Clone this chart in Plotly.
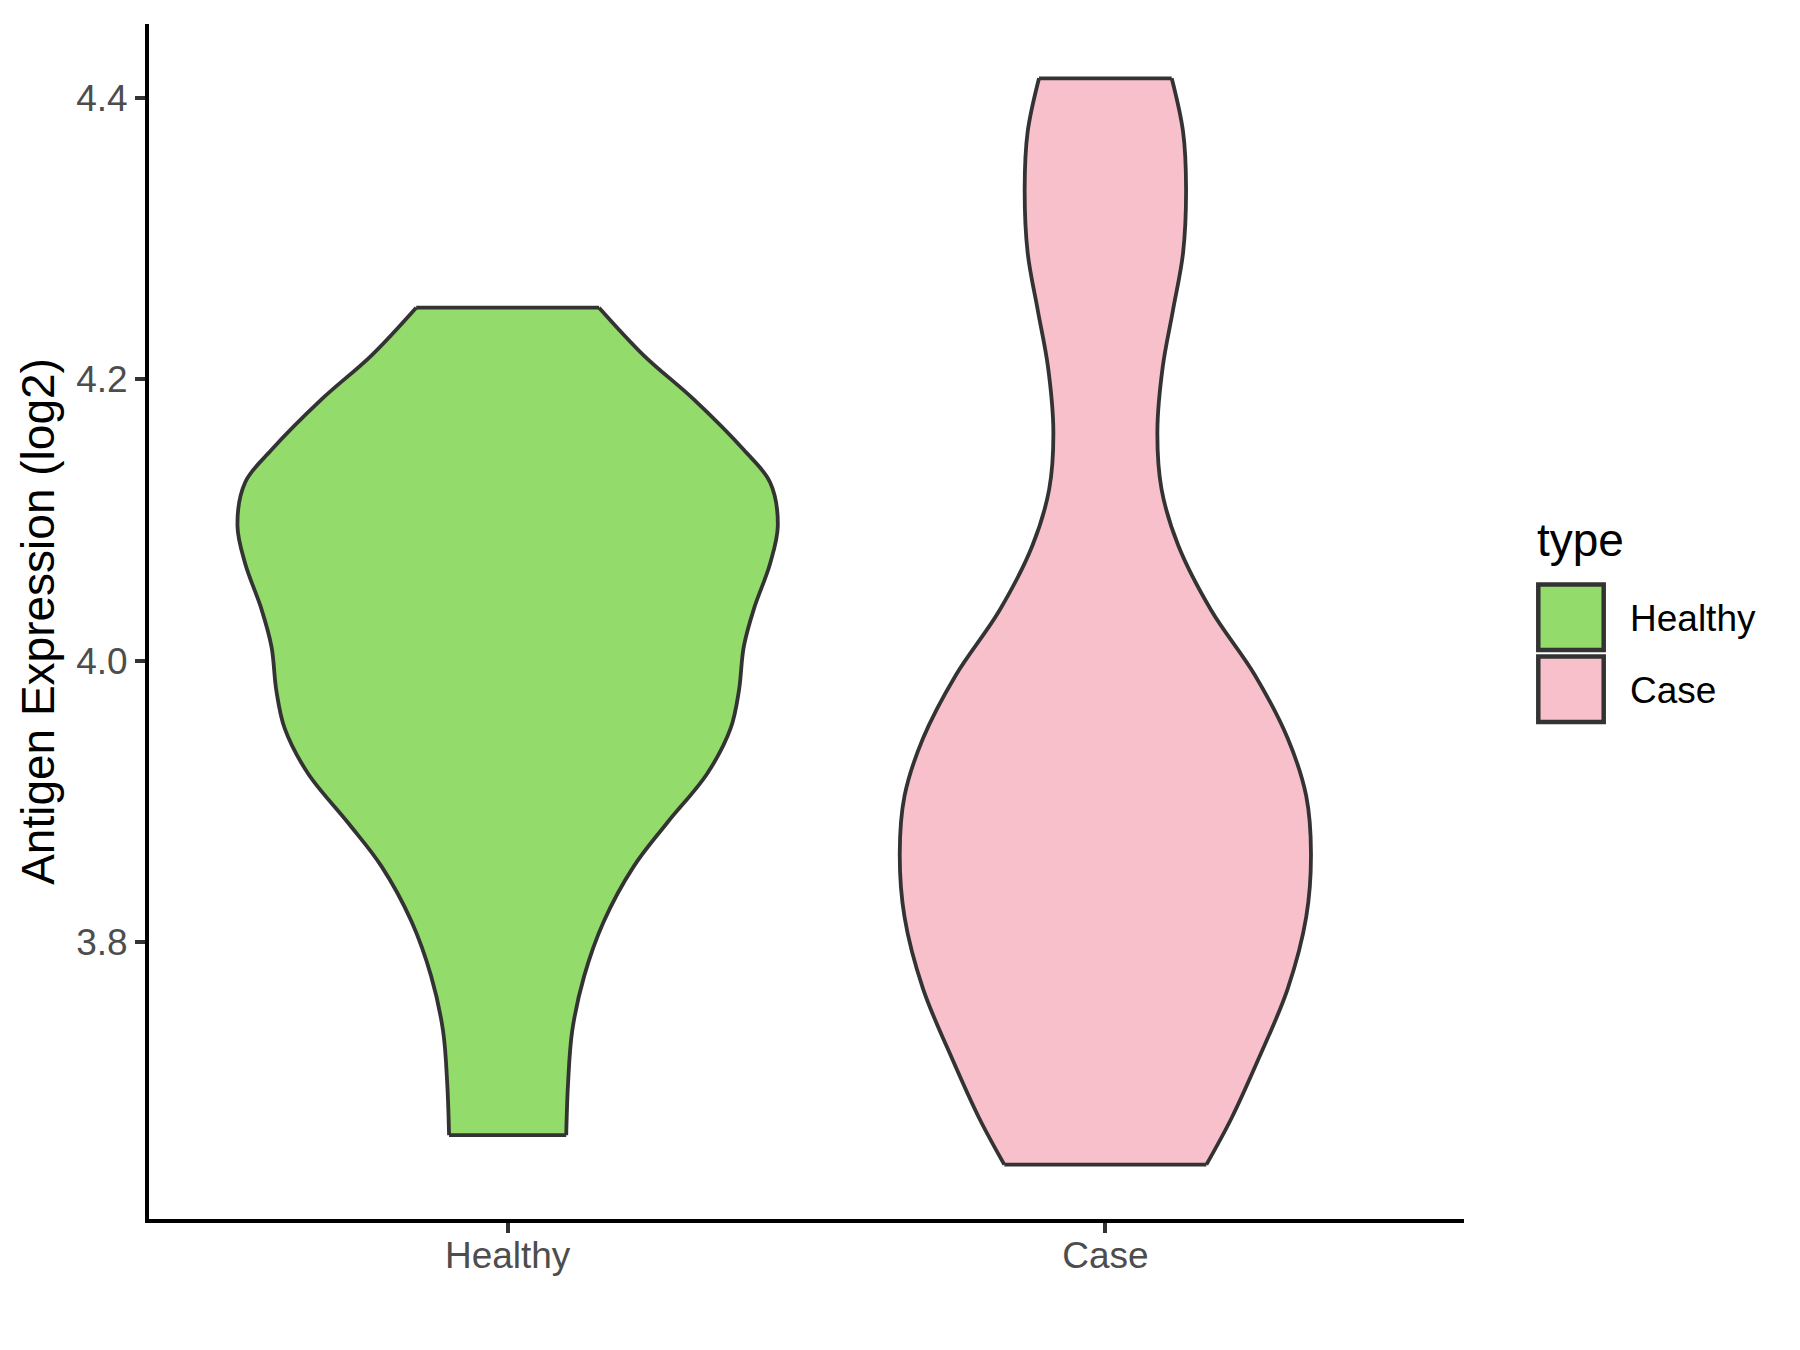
import plotly.graph_objects as go

# ---------------- data ----------------
categories = ["Healthy", "Case"]
fill_colors = ["#93DB6A", "#F8C0CB"]

# violin outline: y levels (log2 expression) and half-widths (in category-axis units)
healthy_y = [3.663, 3.699, 3.737, 3.776, 3.815, 3.854, 3.885, 3.920, 3.952, 3.979,
             4.010, 4.037, 4.069, 4.096, 4.127, 4.150, 4.186, 4.217, 4.251]
healthy_hw = [0.098, 0.101, 0.108, 0.128, 0.161, 0.211, 0.267, 0.334, 0.373, 0.387,
              0.395, 0.412, 0.439, 0.452, 0.439, 0.395, 0.311, 0.228, 0.153]

case_y = [3.642, 3.675, 3.716, 3.767, 3.818, 3.863, 3.904, 3.945, 3.990, 4.036,
          4.082, 4.122, 4.163, 4.209, 4.249, 4.290, 4.336, 4.376, 4.414]
case_hw = [0.169, 0.211, 0.255, 0.305, 0.336, 0.344, 0.336, 0.305, 0.250, 0.177,
           0.122, 0.094, 0.087, 0.096, 0.113, 0.130, 0.135, 0.130, 0.111]

y_tick_vals = [3.8, 4.0, 4.2, 4.4]
y_title = "Antigen Expression (log2)"
legend_title = "type"

# ---------------- styling ----------------
W, H = 1800, 1350
BODY = 8  # default page margin around the plot div
ML, MR, MT, MB = 141, 344, 16, 139
FONT = "Liberation Sans, Arial, Helvetica, sans-serif"
OUTLINE = "#333333"
LW = 3.8

fig = go.Figure()

groups = [(healthy_y, healthy_hw), (case_y, case_hw)]
for i, (ys, hws) in enumerate(groups):
    c = i + 1
    left = [c - h for h in hws]
    right = [c + h for h in hws]
    fig.add_trace(go.Scatter(x=left, y=ys, mode="lines",
                             line=dict(color=OUTLINE, width=LW, shape="spline"),
                             showlegend=False, hoverinfo="skip"))
    fig.add_trace(go.Scatter(x=right, y=ys, mode="lines", fill="tonextx",
                             fillcolor=fill_colors[i],
                             line=dict(color=OUTLINE, width=LW, shape="spline"),
                             showlegend=False, hoverinfo="skip"))
    # flat caps at the ends of the violin
    fig.add_trace(go.Scatter(x=[left[0], right[0], None, left[-1], right[-1]],
                             y=[ys[0], ys[0], None, ys[-1], ys[-1]],
                             mode="lines", line=dict(color=OUTLINE, width=LW),
                             showlegend=False, hoverinfo="skip"))

all_y = healthy_y + case_y
ymin, ymax = min(all_y), max(all_y)
pad = 0.05 * (ymax - ymin)

pw = W - ML - MR
ph = H - MT - MB


def px_x(x):
    return (x - BODY - ML) / pw


def px_y(y):
    return (H - MB - (y - BODY)) / ph


# ---------------- legend drawn manually (ggplot style) ----------------
shapes = []
annotations = []
key_x0, key_x1 = 1538.3, 1603.7
key_tops = [584.6, 656.6]
key_size = 65.4
for i, cat in enumerate(categories):
    t = key_tops[i]
    shapes.append(dict(type="rect", xref="paper", yref="paper",
                       x0=px_x(key_x0), x1=px_x(key_x1),
                       y0=px_y(t + key_size), y1=px_y(t),
                       fillcolor=fill_colors[i],
                       line=dict(color=OUTLINE, width=4.5)))
    annotations.append(dict(text=cat, xref="paper", yref="paper",
                            x=px_x(1628), y=px_y(t + key_size / 2 + 1.5),
                            xanchor="left", yanchor="middle", showarrow=False,
                            font=dict(family=FONT, size=37, color="#000000")))
annotations.append(dict(text=legend_title, xref="paper", yref="paper",
                        x=px_x(1535), y=px_y(540),
                        xanchor="left", yanchor="middle", showarrow=False,
                        font=dict(family=FONT, size=46, color="#000000")))

fig.update_layout(
    width=W, height=H,
    margin=dict(l=ML, r=MR, t=MT, b=MB, autoexpand=False),
    paper_bgcolor="white", plot_bgcolor="white",
    showlegend=False,
    font=dict(family=FONT),
    shapes=shapes, annotations=annotations,
    xaxis=dict(range=[0.4, 2.6], tickvals=[1, 2], ticktext=categories,
               showgrid=False, zeroline=False,
               showline=True, linecolor="#000000", linewidth=4,
               ticks="outside", ticklen=10, tickwidth=4, tickcolor=OUTLINE,
               tickfont=dict(family=FONT, size=37, color="#4D4D4D"),
               ticklabelstandoff=-9,
               automargin=False),
    yaxis=dict(range=[ymin - pad, ymax + pad], tickvals=y_tick_vals,
               tickformat=".1f",
               showgrid=False, zeroline=False,
               showline=True, linecolor="#000000", linewidth=4,
               ticks="outside", ticklen=10, tickwidth=4, tickcolor=OUTLINE,
               tickfont=dict(family=FONT, size=37, color="#4D4D4D"),
               title=dict(text=y_title, standoff=8,
                          font=dict(family=FONT, size=46, color="#000000")),
               automargin=False),
)

fig.write_html("out.html")
